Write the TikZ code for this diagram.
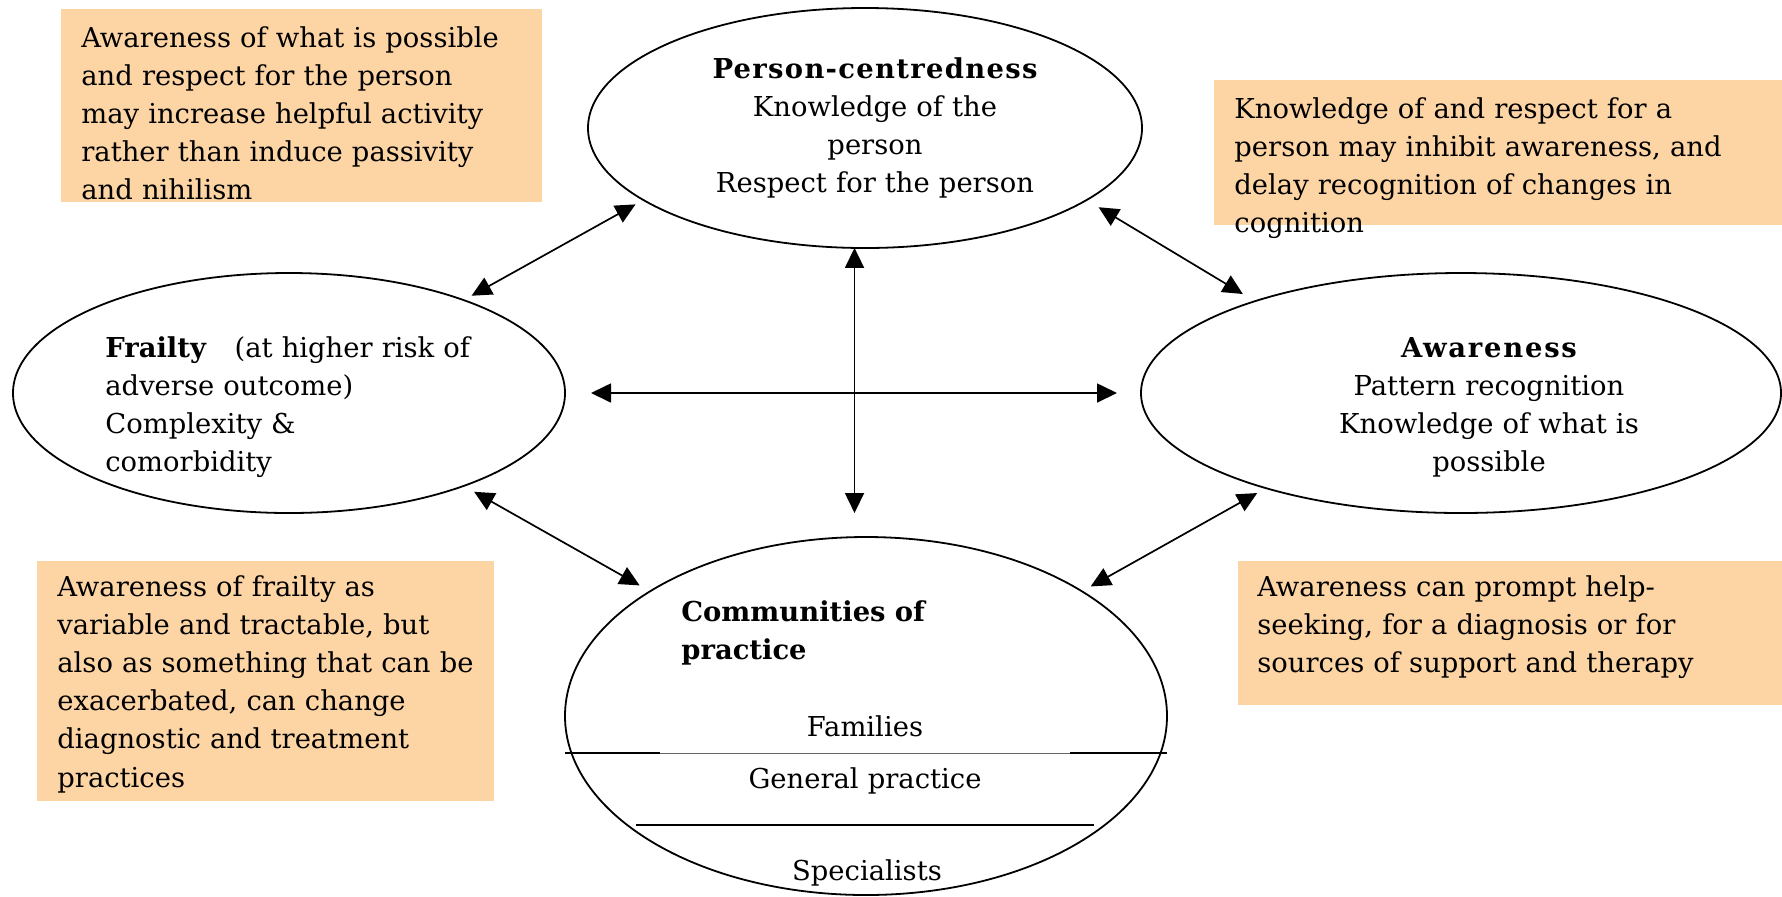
\documentclass[tikz,border=0pt]{standalone}
\usepackage{fontspec}
\setmainfont{DejaVu Serif}
\usetikzlibrary{arrows.meta,shapes.geometric,calc}
\definecolor{peach}{RGB}{253,213,165}
\newcommand{\wideb}[2]{{\bfseries\addfontfeature{LetterSpace=#1}#2}}
\begin{document}
\begin{tikzpicture}[x=0.5pt,y=-0.5pt,
  ell/.style={draw,ellipse,line width=0.9pt,inner sep=0,outer sep=0},
  note/.style={fill=peach,rectangle,inner sep=0,outer sep=0,anchor=north west},
  ltxt/.style={font=\fontsize{13.7pt}{19.1pt}\selectfont,inner sep=0,text width=300pt,align=left,anchor=base west},
  ctxt/.style={font=\fontsize{13.7pt}{19.1pt}\selectfont,inner sep=0,text width=300pt,align=center,anchor=base},
  dbl/.style={{Triangle[length=10pt,width=9.5pt]}-{Triangle[length=10pt,width=9.5pt]},line width=0.85pt},
  septhick/.style={line width=1pt},
  septhin/.style={line width=0.5pt,black!60}]
\useasboundingbox (0,0) rectangle (1782,896);
% notes
\node[note,minimum width=240.5pt,minimum height=96.5pt] (n1) at (61,9) {};
\node[note,minimum width=284pt,minimum height=72.5pt] (n2) at (1214,80) {};
\node[note,minimum width=228.5pt,minimum height=120pt] (n3) at (37,561) {};
\node[note,minimum width=272pt,minimum height=72pt] (n4) at (1238,561) {};
% ellipses
\node[ell,minimum width=277pt,minimum height=120pt] (pc) at (865,128) {};
\node[ell,minimum width=276pt,minimum height=120pt] (fr) at (289,393) {};
\node[ell,minimum width=320pt,minimum height=120pt] (aw) at (1461,393) {};
\node[ell,minimum width=301pt,minimum height=179pt] (co) at (866,716) {};
% texts
\node[ltxt] (t1) at (81,47) {Awareness of what is possible\\and respect for the person\\may increase helpful activity\\rather than induce passivity\\and nihilism};
\node[ltxt] (t2) at (1234,118) {Knowledge of and respect for a\\person may inhibit awareness, and\\delay recognition of changes in\\cognition};
\node[ltxt] (t3) at (57,596) {Awareness of frailty as\\variable and tractable, but\\also as something that can be\\exacerbated, can change\\diagnostic and treatment\\practices};
\node[ltxt] (t4) at (1257,596) {Awareness can prompt help-\\seeking, for a diagnosis or for\\sources of support and therapy};
\node[ctxt] (pct) at (875,78) {\wideb{4.8}{Person-centredness}\\Knowledge of the\\person\\Respect for the person};
\node[ltxt] (frt) at (105,357) {\textbf{Frailty}\hspace{14pt}(at higher risk of\\adverse outcome)\\Complexity \&\\comorbidity};
\node[ctxt] (awt) at (1489,357) {\wideb{6.5}{Awareness}\\Pattern recognition\\Knowledge of what is\\possible};
\node[ltxt] (cot) at (681,621) {\textbf{Communities of}\\\textbf{practice}};
\node[ctxt] (fam) at (865,736) {Families};
\node[ctxt] (gp) at (865,788) {General practice};
\node[ctxt] (spe) at (867,880) {Specialists};
% separators inside communities
\draw[septhick] ($(co.center)+(-301,37)$) -- ($(co.center)+(-206,37)$);
\draw[septhin] ($(co.center)+(-206,37)$) -- ($(co.center)+(204,37)$);
\draw[septhick] ($(co.center)+(204,37)$) -- ($(co.center)+(301,37)$);
\draw[septhick] ($(co.center)+(-230,109)$) -- ($(co.center)+(228,109)$);
% arrows
\draw[dbl,shorten <=4.5pt,shorten >=4.5pt] (fr.28) -- (pc.198);
\draw[dbl,shorten <=7pt,shorten >=7pt] (pc.342) -- (aw.156);
\draw[dbl,shorten <=6pt,shorten >=6pt] (fr.332) -- (co.150);
\draw[dbl,shorten <=5pt,shorten >=5pt] (aw.206) -- (co.30);
\draw[dbl] (pc.265) -- ($(pc.265 |- co.north)+(0,-24)$);
\draw[dbl,shorten <=13pt,shorten >=12pt] (fr.east) -- (aw.west);
\end{tikzpicture}
\end{document}
